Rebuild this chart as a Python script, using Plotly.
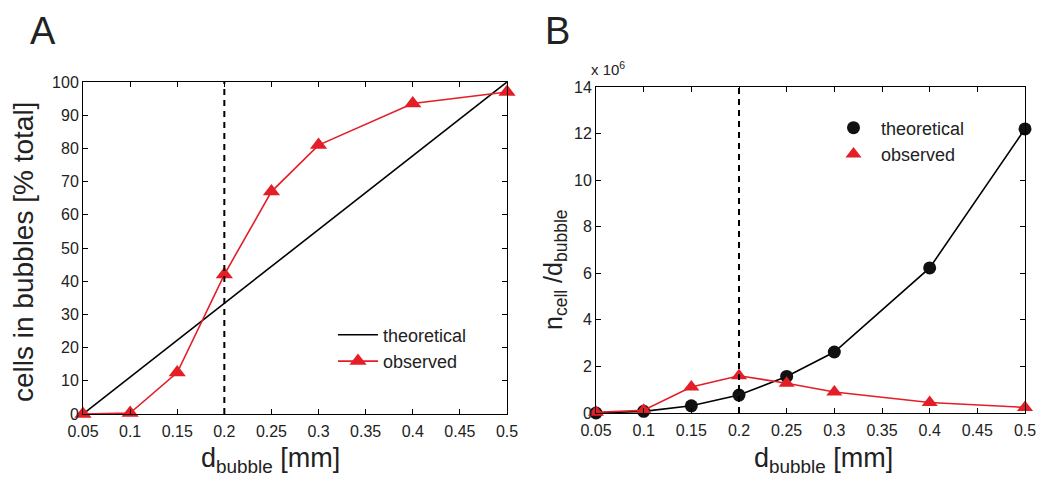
import plotly.graph_objects as go

# ---- data ----
d_bubble = [0.05, 0.1, 0.15, 0.2, 0.25, 0.3, 0.4, 0.5]
theo_pct = [0, 11.1, 22.2, 33.3, 44.4, 55.6, 77.8, 100]
obs_pct = [0, 0.3, 12.5, 42, 67, 81, 93.5, 97]
theo_n = [0.0, 0.07, 0.31, 0.77, 1.57, 2.62, 6.23, 12.2]
obs_n = [0.03, 0.12, 1.12, 1.6, 1.28, 0.9, 0.45, 0.24]
d_threshold = 0.2
xticks = [0.05, 0.1, 0.15, 0.2, 0.25, 0.3, 0.35, 0.4, 0.45, 0.5]
xticklabels = ["0.05", "0.1", "0.15", "0.2", "0.25", "0.3", "0.35", "0.4", "0.45", "0.5"]
yticksA = list(range(0, 101, 10))
yticksB = list(range(0, 15, 2))

RED = "#e41e26"
INK = "#222222"
FONT = "Liberation Sans, Arial, Helvetica, sans-serif"

# figure is offset by the page's 8px body margin
OFF = 8
W, H = 1050 - 2 * OFF, 491 - 2 * OFF


def px(X):
    return (X - OFF) / W


def py(Y):
    return 1 - (Y - OFF) / H


fig = go.Figure()

# Panel A
fig.add_trace(go.Scatter(x=d_bubble, y=theo_pct, mode="lines", name="theoretical",
                         line=dict(color="black", width=1.6), xaxis="x", yaxis="y",
                         legend="legend", cliponaxis=False))
fig.add_trace(go.Scatter(x=d_bubble, y=obs_pct, mode="lines+markers", name="observed",
                         line=dict(color=RED, width=1.6),
                         marker=dict(symbol="triangle-up", size=15, color=RED),
                         xaxis="x", yaxis="y", legend="legend", cliponaxis=False))

# Panel B
fig.add_trace(go.Scatter(x=d_bubble, y=theo_n, mode="lines+markers", name="theoretical",
                         line=dict(color="black", width=1.6),
                         marker=dict(symbol="circle", size=13, color="#111111"),
                         xaxis="x2", yaxis="y2", showlegend=False, cliponaxis=False))
fig.add_trace(go.Scatter(x=d_bubble, y=obs_n, mode="lines+markers", name="observed",
                         line=dict(color=RED, width=1.6),
                         marker=dict(symbol="triangle-up", size=14, color=RED),
                         xaxis="x2", yaxis="y2", showlegend=False, cliponaxis=False))
# legend-only entries for B (markers only)
fig.add_trace(go.Scatter(x=[None], y=[None], mode="markers", name="theoretical",
                         marker=dict(symbol="circle", size=13, color="#111111"),
                         xaxis="x2", yaxis="y2", legend="legend2"))
fig.add_trace(go.Scatter(x=[None], y=[None], mode="markers", name="observed",
                         marker=dict(symbol="triangle-up", size=14, color=RED),
                         xaxis="x2", yaxis="y2", legend="legend2"))

# dashed threshold lines
fig.add_shape(type="line", xref="x", yref="y", x0=d_threshold, x1=d_threshold, y0=0, y1=100,
              line=dict(color="black", width=2, dash="6px,5px"))
fig.add_shape(type="line", xref="x2", yref="y2", x0=d_threshold, x1=d_threshold, y0=0, y1=14,
              line=dict(color="black", width=2, dash="6px,5px"))

axis_common = dict(showline=True, linecolor="black", linewidth=1, mirror="ticks",
                   ticks="inside", ticklen=5, tickcolor="black", showgrid=False,
                   zeroline=False, automargin=False,
                   tickfont=dict(size=16, color=INK, family=FONT))


def ann(text, X, Y, size, angle=0, xa="center", ya="middle"):
    return dict(text=text, x=px(X), y=py(Y), xref="paper", yref="paper",
                xanchor=xa, yanchor=ya, showarrow=False, textangle=angle,
                font=dict(size=size, family=FONT, color=INK))


fig.update_layout(
    width=W, height=H,
    margin=dict(l=0, r=0, t=0, b=0),
    paper_bgcolor="white", plot_bgcolor="white",
    font=dict(family=FONT, color=INK),
    xaxis=dict(domain=[px(83), px(507)], range=[0.05, 0.5], tickvals=xticks,
               ticktext=xticklabels, anchor="y", ticklabelstandoff=3, **axis_common),
    yaxis=dict(domain=[py(414), py(82)], range=[0, 100], tickvals=yticksA, anchor="x",
               **axis_common),
    xaxis2=dict(domain=[px(596), px(1025)], range=[0.05, 0.5], tickvals=xticks,
                ticktext=xticklabels, anchor="y2", ticklabelstandoff=3, **axis_common),
    yaxis2=dict(domain=[py(413), py(87)], range=[0, 14], tickvals=yticksB, anchor="x2",
                **axis_common),
    legend=dict(x=px(333), y=py(348), xanchor="left", yanchor="middle", itemwidth=40,
                bgcolor="rgba(0,0,0,0)", font=dict(size=18, family=FONT, color=INK)),
    legend2=dict(x=px(826), y=py(141), xanchor="left", yanchor="middle", itemwidth=45,
                 bgcolor="rgba(0,0,0,0)", font=dict(size=18, family=FONT, color=INK)),
    annotations=[
        ann("A", 28, 8, 38, xa="left", ya="top"),
        ann("B", 543, 8, 38, xa="left", ya="top"),
        ann("x 10<sup>6</sup>", 589, 80, 15, xa="left", ya="bottom"),
        ann("d<sub>bubble</sub> [mm]", 270, 460, 27),
        ann("d<sub>bubble</sub> [mm]", 823, 460, 27),
        ann("cells in bubbles [% total]", 24, 252, 28, angle=-90),
        ann("n<sub>cell</sub> /d<sub>bubble</sub>", 555, 270, 25, angle=-90),
    ],
)

fig.write_html("out.html")
